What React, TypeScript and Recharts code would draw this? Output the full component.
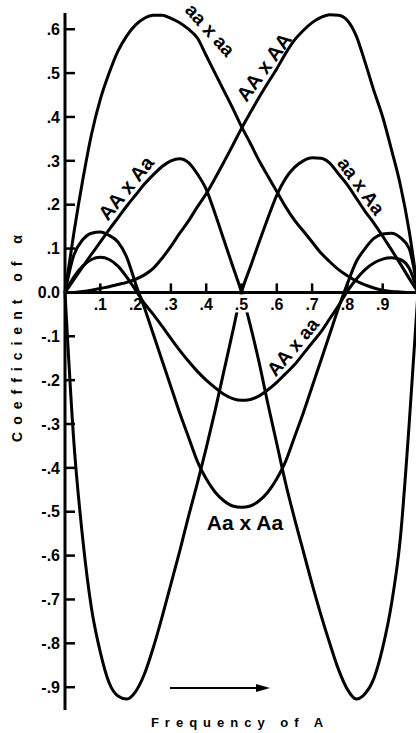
import React from "react"
import { LineChart, Line, XAxis, YAxis, ReferenceLine } from "recharts"

// frequency of A (x)
const freqA = [0, 0.025, 0.05, 0.075, 0.1, 0.125, 0.15, 0.175, 0.2, 0.225, 0.25, 0.275, 0.3, 0.325, 0.35, 0.375, 0.4, 0.425, 0.45, 0.475, 0.5, 0.525, 0.55, 0.575, 0.6, 0.625, 0.65, 0.675, 0.7, 0.725, 0.75, 0.775, 0.8, 0.825, 0.85, 0.875, 0.9, 0.925, 0.95, 0.975, 1]

// coefficient of alpha, one list per mating type
const aaXaa = [0, 0.135, 0.255, 0.36, 0.44, 0.5, 0.55, 0.585, 0.61, 0.625, 0.632, 0.632, 0.625, 0.615, 0.6, 0.58, 0.54, 0.5, 0.46, 0.42, 0.378, 0.34, 0.3, 0.265, 0.23, 0.195, 0.165, 0.14, 0.115, 0.09, 0.07, 0.052, 0.038, 0.026, 0.017, 0.01, 0.005, 0.002, 0.001, 0, 0]
const AAxAA = [0, 0, 0.002, 0.005, 0.009, 0.013, 0.018, 0.023, 0.03, 0.04, 0.055, 0.078, 0.105, 0.135, 0.163, 0.195, 0.225, 0.26, 0.297, 0.335, 0.374, 0.41, 0.445, 0.478, 0.51, 0.545, 0.575, 0.597, 0.615, 0.627, 0.633, 0.632, 0.62, 0.585, 0.525, 0.46, 0.4, 0.325, 0.245, 0.14, 0]
const AAxAa = [0, 0.029, 0.058, 0.087, 0.115, 0.143, 0.17, 0.197, 0.222, 0.247, 0.268, 0.287, 0.3, 0.305, 0.296, 0.27, 0.235, 0.18, 0.12, 0.06, 0, -0.075, -0.16, -0.255, -0.345, -0.435, -0.515, -0.59, -0.665, -0.735, -0.8, -0.86, -0.905, -0.927, -0.915, -0.88, -0.81, -0.71, -0.56, -0.3, 0]
const aaXAa = [0, -0.34, -0.56, -0.72, -0.82, -0.89, -0.92, -0.927, -0.91, -0.87, -0.81, -0.74, -0.665, -0.59, -0.51, -0.435, -0.355, -0.27, -0.18, -0.09, 0, 0.058, 0.115, 0.17, 0.222, 0.26, 0.285, 0.3, 0.307, 0.306, 0.295, 0.27, 0.245, 0.215, 0.185, 0.158, 0.128, 0.097, 0.065, 0.032, 0]
const AAxaa = [0, 0.035, 0.06, 0.075, 0.08, 0.075, 0.06, 0.035, 0.005, -0.025, -0.05, -0.077, -0.105, -0.132, -0.157, -0.18, -0.2, -0.217, -0.232, -0.242, -0.246, -0.244, -0.236, -0.222, -0.205, -0.185, -0.165, -0.14, -0.115, -0.09, -0.06, -0.03, 0.003, 0.03, 0.052, 0.067, 0.076, 0.079, 0.075, 0.055, 0]
const AaXAa = [0, 0.085, 0.12, 0.135, 0.138, 0.13, 0.115, 0.08, 0.02, -0.035, -0.095, -0.155, -0.215, -0.275, -0.33, -0.385, -0.425, -0.455, -0.475, -0.487, -0.49, -0.487, -0.475, -0.455, -0.425, -0.385, -0.33, -0.275, -0.215, -0.155, -0.095, -0.035, 0.02, 0.07, 0.1, 0.123, 0.133, 0.135, 0.125, 0.1, 0]

const xTicks = [0.1, 0.2, 0.3, 0.4, 0.5, 0.6, 0.7, 0.8, 0.9]
const yTicks = [0.6, 0.5, 0.4, 0.3, 0.2, 0.1, 0, -0.1, -0.2, -0.3, -0.4, -0.5, -0.6, -0.7, -0.8, -0.9]

const series = ["aaXaa", "AAxAA", "AAxAa", "aaXAa", "AAxaa", "AaXAa"]

const data = freqA.map((p, i) => ({
  p,
  aaXaa: aaXaa[i],
  AAxAA: AAxAA[i],
  AAxAa: AAxAa[i],
  aaXAa: aaXAa[i],
  AAxaa: AAxaa[i],
  AaXAa: AaXAa[i],
}))

const W = 420
const H = 733
const M = { top: 13, right: 1, bottom: 22, left: 64 }
const PLOT_TOP = 13
const PLOT_BOTTOM = 710
const PLOT_LEFT = 65
const Y_MIN = -0.952
const Y_MAX = 0.637
const ZERO_Y = PLOT_TOP + ((PLOT_BOTTOM - PLOT_TOP) * Y_MAX) / (Y_MAX - Y_MIN)
const FONT = "'Liberation Sans', Arial, Helvetica, sans-serif"

const fmt = (v: number) => (v === 0 ? "0.0" : (v < 0 ? "-" : "") + "." + Math.round(Math.abs(v) * 10))

function LeftTick({ y, payload }: any) {
  return (
    <g>
      <line x1={PLOT_LEFT} x2={PLOT_LEFT + 10} y1={y} y2={y} stroke="#000" strokeWidth={2.5} />
      <text x={PLOT_LEFT - 5} y={y} dy="0.36em" textAnchor="end" fontFamily={FONT} fontWeight="bold" fontSize={16} fill="#000">
        {fmt(payload.value)}
      </text>
    </g>
  )
}

function RightTick({ y }: any) {
  return <line x1={408} x2={417} y1={y} y2={y} stroke="#000" strokeWidth={2.5} />
}

// the centre label sits in a small gap the drawing leaves in the curves
function BottomTick({ x, payload }: any) {
  const mid = payload.value === 0.5
  return (
    <g>
      {mid && <rect x={x - 9} y={ZERO_Y + 2} width={19} height={18} fill="#fff" />}
      <line x1={x} x2={x} y1={ZERO_Y - 9} y2={ZERO_Y} stroke="#000" strokeWidth={2.5} />
      <text x={x} y={ZERO_Y + 18} textAnchor="middle" fontFamily={FONT} fontWeight="bold" fontSize={16} fill="#000">
        {"." + Math.round(payload.value * 10)}
      </text>
    </g>
  )
}

const curveLabel = { fontFamily: FONT, fontWeight: "bold" as const, fontSize: 19, fill: "#000" }

export default function App() {
  return (
    <div style={{ position: "absolute", left: 0, top: 0, width: 416, height: 733, overflow: "hidden", background: "#fff" }}>
      <LineChart width={W} height={H} data={data} margin={M}>
        <YAxis
          yAxisId="l"
          type="number"
          domain={[Y_MIN, Y_MAX]}
          ticks={yTicks}
          width={1}
          interval={0}
          axisLine={{ stroke: "#000", strokeWidth: 3 }}
          tickLine={false}
          tick={<LeftTick />}
        />
        <YAxis
          yAxisId="r"
          orientation="right"
          type="number"
          domain={[Y_MIN, Y_MAX]}
          ticks={yTicks}
          width={1}
          interval={0}
          axisLine={false}
          tickLine={false}
          tick={<RightTick />}
        />
        <ReferenceLine yAxisId="l" y={0} stroke="#000" strokeWidth={3} />
        {series.map((key) => (
          <Line
            key={key}
            yAxisId="l"
            type="monotone"
            dataKey={key}
            stroke="#000"
            strokeWidth={3}
            dot={false}
            activeDot={false}
            isAnimationActive={false}
          />
        ))}
        <XAxis
          dataKey="p"
          type="number"
          domain={[0, 1]}
          ticks={xTicks}
          height={1}
          axisLine={false}
          tickLine={false}
          tick={<BottomTick />}
          interval={0}
        />
      </LineChart>
      <svg width={416} height={733} style={{ position: "absolute", left: 0, top: 0, pointerEvents: "none" }}>
        <text
          transform="translate(17 335) rotate(-90)"
          textAnchor="middle"
          dominantBaseline="central"
          fontFamily={FONT}
          fontWeight="bold"
          fontSize={14}
          style={{ letterSpacing: 7 }}
        >
          Coefficient of α
        </text>
        <text x={240} y={727} textAnchor="middle" fontFamily={FONT} fontWeight="bold" fontSize={13} style={{ letterSpacing: 6 }}>
          Frequency of A
        </text>
        <line x1={170} x2={260} y1={688} y2={688} stroke="#000" strokeWidth={2} />
        <polygon points="256,684 270,688 256,692" fill="#000" />
        <text transform="translate(210 30) rotate(48)" textAnchor="middle" dominantBaseline="central" {...curveLabel}>aa x aa</text>
        <text transform="translate(264 67) rotate(-54)" textAnchor="middle" dominantBaseline="central" {...curveLabel} fontSize={20}>AA x AA</text>
        <text transform="translate(126 188) rotate(-51)" textAnchor="middle" dominantBaseline="central" {...curveLabel} fontSize={20}>AA x Aa</text>
        <text transform="translate(361 186) rotate(54)" textAnchor="middle" dominantBaseline="central" {...curveLabel}>aa x Aa</text>
        <text transform="translate(293 347) rotate(-50)" textAnchor="middle" dominantBaseline="central" {...curveLabel}>AA x aa</text>
        <text x={245} y={522} textAnchor="middle" dominantBaseline="central" {...curveLabel} fontSize={21}>Aa x Aa</text>
      </svg>
    </div>
  )
}
